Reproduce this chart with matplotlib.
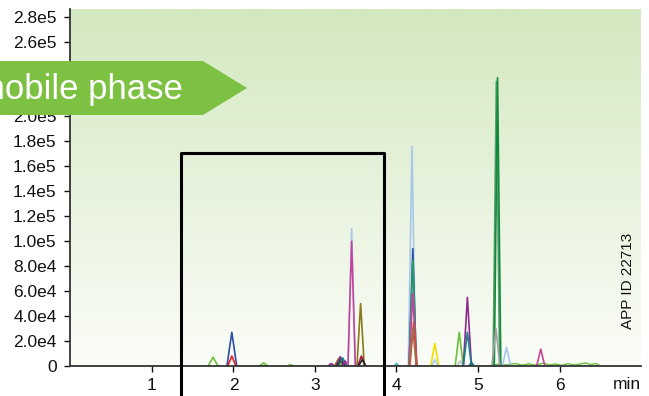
import numpy as np
import matplotlib
matplotlib.use("Agg")
import matplotlib.pyplot as plt
from matplotlib.colors import LinearSegmentedColormap
from matplotlib.patches import Polygon

plt.rcParams["font.family"] = ["Liberation Sans", "DejaVu Sans"]

# --- data ---------------------------------------------------------------
# one entry per peak: retention time (min), apex height (counts), half base width, colour
PEAK_TIME = [1.75, 1.98, 1.98, 2.37, 2.70, 3.20, 3.29, 3.31, 3.32, 3.34, 3.37,
             3.45, 3.45, 3.56, 3.57, 3.58, 4.00, 4.19, 4.20, 4.20, 4.20, 4.21,
             4.20, 4.47, 4.47, 4.77, 4.78, 4.87, 4.87, 4.92, 5.225, 5.24, 5.22,
             5.35, 5.77]
PEAK_HEIGHT = [7.0e3, 2.7e4, 8.0e3, 2.5e3, 1.0e3, 2.0e3, 6.0e3, 7.5e3, 5.0e3,
               6.5e3, 4.0e3, 1.10e5, 1.0e5, 5.0e4, 8.0e3, 5.0e3, 2.0e3, 1.76e5,
               9.4e4, 8.5e4, 5.8e4, 3.5e4, 3.0e4, 1.8e4, 5.0e3, 2.7e4, 4.0e3,
               5.5e4, 2.7e4, 3.0e3, 2.28e5, 2.31e5, 3.0e4, 1.5e4, 1.35e4]
PEAK_HALFWIDTH = [0.06, 0.06, 0.05, 0.05, 0.04, 0.04, 0.05, 0.05, 0.05, 0.05,
                  0.04, 0.045, 0.045, 0.045, 0.045, 0.045, 0.03, 0.045, 0.045,
                  0.045, 0.045, 0.045, 0.045, 0.05, 0.04, 0.05, 0.04, 0.05, 0.05,
                  0.03, 0.04, 0.04, 0.05, 0.05, 0.05]
PEAK_COLOR = ["#6cbf3c", "#2b4fa8", "#e02020", "#6cbf3c", "#6cbf3c", "#8e2a8e",
              "#8a7a1a", "#8e2a8e", "#222222", "#1a7f8a", "#8e2a8e", "#a8c8ea",
              "#c8449a", "#8a7a1a", "#a01840", "#222222", "#45b5d0", "#a8c8ea",
              "#2b4fa8", "#2a9a6a", "#c8449a", "#e04050", "#a07040", "#f0e000",
              "#a8d0ee", "#6cbf3c", "#c0c0c0", "#8e2a8e", "#1a7f8a", "#1a6f7a",
              "#5aa070", "#108a3a", "#a0a0a0", "#a8c8ea", "#c8449a"]

# noisy green baseline at the end of the run
NOISE_TIME = [5.15, 5.25, 5.35, 5.45, 5.55, 5.62, 5.70, 5.80, 5.88, 5.95,
              6.03, 6.10, 6.18, 6.25, 6.32, 6.38, 6.45, 6.50]
NOISE_VALUE = [0, 1500, 800, 2000, 600, 1800, 700, 2200, 900, 1600, 500,
               1900, 800, 1500, 2500, 1200, 2000, 0]

Y_TICKS = [0, 2.0e4, 4.0e4, 6.0e4, 8.0e4, 1.0e5, 1.2e5, 1.4e5, 1.6e5, 1.8e5,
           2.0e5, 2.2e5, 2.4e5, 2.6e5, 2.8e5]
Y_LABELS = ["0", "2.0e4", "4.0e4", "6.0e4", "8.0e4", "1.0e5", "1.2e5", "1.4e5",
            "1.6e5", "1.8e5", "2.0e5", "2.2e5", "2.4e5", "2.6e5", "2.8e5"]
X_TICKS = [1, 2, 3, 4, 5, 6]

# highlighted window (min, counts)
BOX_T0, BOX_T1, BOX_TOP = 1.355, 3.843, 1.704e5

fig = plt.figure(figsize=(6.49, 3.96), dpi=100)
ax = fig.add_axes([0.1085, 0.0758, 0.8792, 0.9012])
ax.set_xlim(0, 7.0)
ax.set_ylim(0, 2.86e5)

# background gradient (green at top fading to white)
cmap = LinearSegmentedColormap.from_list("bg", ["#fbfdf8", "#d3e8c0"])
grad = np.linspace(0, 1, 256).reshape(-1, 1)
ax.imshow(grad, cmap=cmap, aspect="auto", origin="lower",
          extent=[0, 1, 0, 1], transform=ax.transAxes, zorder=0)

# baselines
ax.plot([0, 6.5], [0, 0], color="#6cbf3c", lw=1.0, zorder=2)
ax.plot(NOISE_TIME, NOISE_VALUE, color="#6cbf3c", lw=1.0, zorder=2)

for t, h, w, c in zip(PEAK_TIME, PEAK_HEIGHT, PEAK_HALFWIDTH, PEAK_COLOR):
    ax.plot([t - w, t, t + w], [0, h, 0], color=c, lw=1.2, zorder=3)

# window box, running below the axis
ax.plot([BOX_T0, BOX_T0, BOX_T1, BOX_T1], [-3.5e4, BOX_TOP, BOX_TOP, -3.5e4],
        color="black", lw=2.2, clip_on=False, zorder=5)

for side in ("top", "right"):
    ax.spines[side].set_visible(False)
for side in ("left", "bottom"):
    ax.spines[side].set_color("#333333")
    ax.spines[side].set_linewidth(1.3)
    ax.spines[side].set_zorder(4)

ax.set_yticks(Y_TICKS)
ax.set_yticklabels(Y_LABELS)
ax.set_xticks(X_TICKS)
ax.set_xticklabels([str(v) for v in X_TICKS])
ax.tick_params(axis="both", labelsize=12.5, colors="#111111", length=4,
               width=1.0, direction="out", pad=6)
ax.tick_params(axis="x", pad=5)

ax.text(1.0, -0.03, "min", transform=ax.transAxes, ha="right", va="top",
        fontsize=12.5, color="#111111")
ax.text(0.977, 0.238, "APP ID 22713", transform=ax.transAxes, rotation=90,
        ha="center", va="center", fontsize=11, color="#111111")

# "mobile phase" banner arrow in figure pixels
W, H = 649.0, 396.0
banner = Polygon([(0 / W, 1 - 61 / H), (203 / W, 1 - 61 / H), (247 / W, 1 - 88 / H),
                  (203 / W, 1 - 115 / H), (0 / W, 1 - 115 / H)],
                 closed=True, transform=fig.transFigure, facecolor="#7cc142",
                 edgecolor="none", zorder=10)
fig.patches.append(banner)
fig.text(-24 / W, 1 - 90 / H, "mobile phase", ha="left", va="center",
         fontsize=25, color="white", zorder=11)

fig.savefig("out.png", dpi=100)
